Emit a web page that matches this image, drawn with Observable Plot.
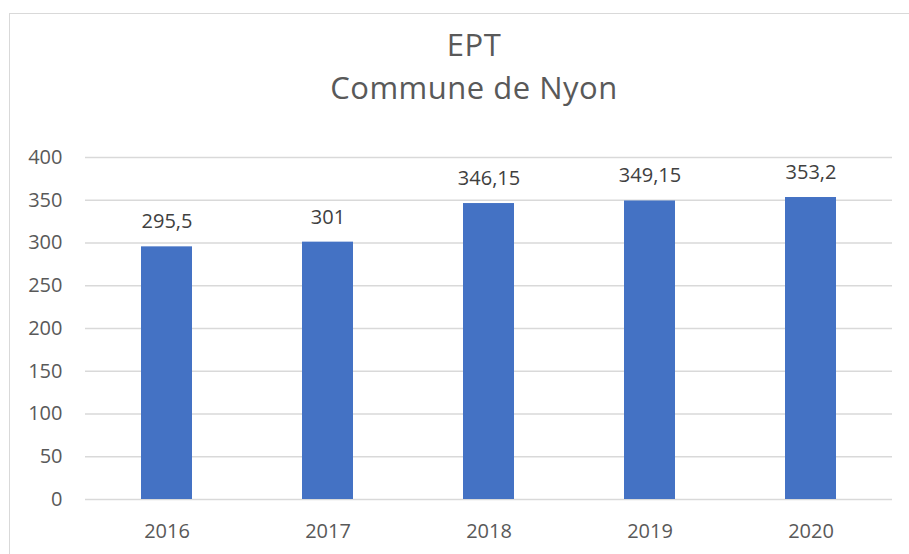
<!DOCTYPE html>
<html>
<head>
<meta charset="utf-8">
<script src="https://cdn.jsdelivr.net/npm/d3@7"></script>
<script src="https://cdn.jsdelivr.net/npm/@observablehq/plot@0.6"></script>
<style>
  html, body { margin: 0; padding: 0; background: #fff; }
  body { width: 909px; height: 554px; position: relative; overflow: hidden; font-family: "Open Sans", sans-serif; }
  #frame { position: absolute; left: 9px; top: 13px; width: 940px; height: 600px; border: 1px solid #d9d9d9; box-sizing: border-box; }
  .title { position: absolute; left: 224px; width: 500px; text-align: center; font-size: 31px; line-height: 31px; letter-spacing: 0.5px; color: #595959; }
  #t1 { top: 29px; }
  #t2 { top: 72px; }
  #chart { position: absolute; left: 0; top: 0; }
</style>
</head>
<body>
<div id="frame"></div>
<div class="title" id="t1">EPT</div>
<div class="title" id="t2">Commune de Nyon</div>
<div id="chart"></div>
<script>
const years = ["2016", "2017", "2018", "2019", "2020"];
const values = [295.5, 301, 346.15, 349.15, 353.2];
const yTicks = [0, 50, 100, 150, 200, 250, 300, 350, 400];

const data = years.map((year, i) => ({year, value: values[i], label: String(values[i]).replace(".", ",")}));

const plot = Plot.plot({
  width: 909,
  height: 554,
  marginTop: 157,
  marginBottom: 55,
  marginLeft: 85,
  marginRight: 17,
  style: {fontFamily: "Open Sans, sans-serif", fontSize: "20px", color: "#595959", background: "transparent"},
  x: {type: "band", domain: years, padding: 0, label: null},
  y: {domain: [0, 400], label: null},
  marks: [
    Plot.ruleY(yTicks, {stroke: "#d9d9d9", strokeWidth: 1.5}),
    Plot.barY(data, {x: "year", y: "value", fill: "#4472C4", insetLeft: 55, insetRight: 55}),
    Plot.text(data, {x: "year", y: "value", text: "label", dy: -25, fill: "#404040", fontSize: 20, lineAnchor: "middle"}),
    Plot.axisY(yTicks, {tickSize: 0, tickPadding: 23, fill: "#595959", fontSize: 20, label: null}),
    Plot.axisX({tickSize: 0, tickPadding: 24, fill: "#595959", fontSize: 20, label: null})
  ]
});
document.getElementById("chart").appendChild(plot);
</script>
</body>
</html>
